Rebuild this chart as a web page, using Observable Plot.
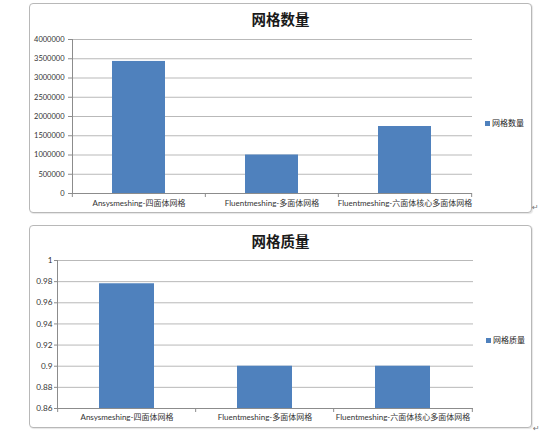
<!DOCTYPE html>
<html><head><meta charset="utf-8">
<script src="https://cdn.jsdelivr.net/npm/d3@7"></script>
<script src="https://cdn.jsdelivr.net/npm/@observablehq/plot@0.6"></script>
<style>
body{margin:0;background:#fff;width:558px;height:446px;position:relative;overflow:hidden;font-family:Lato,"Noto Sans CJK SC",sans-serif;}
.box{position:absolute;box-sizing:border-box;border:1px solid #b8b8b8;border-radius:4px;box-shadow:1px 1px 1px rgba(0,0,0,0.10);background:#fff;}
.title{position:absolute;text-align:center;font-family:"Noto Sans CJK SC",sans-serif;font-weight:bold;font-size:14.5px;line-height:1;color:#1a1a1a;}
.legend{position:absolute;font-family:"Noto Sans CJK SC",sans-serif;font-size:8px;line-height:1;color:#222;display:flex;align-items:center;}
.legend .sw{display:inline-block;width:5px;height:5px;background:#4F81BD;margin-right:2px;}
.plotwrap{position:absolute;}
.pmark{position:absolute;font-family:"DejaVu Sans";font-size:8px;color:#777;line-height:1;}
</style></head>
<body>
<script>
const categories = ["Ansysmeshing-四面体网格", "Fluentmeshing-多面体网格", "Fluentmeshing-六面体核心多面体网格"];
const countValues = [3430000, 1000000, 1740000];
const qualityValues = [0.978, 0.9, 0.9];
const countTicks = [0, 500000, 1000000, 1500000, 2000000, 2500000, 3000000, 3500000, 4000000];
const qualityTicks = [0.86, 0.88, 0.9, 0.92, 0.94, 0.96, 0.98, 1];
const titles = ["网格数量", "网格质量"];
const seriesNames = ["网格数量", "网格质量"];

const BAR = "#4F81BD";
const GRID = "#b9b9b9";
const AXIS = "#8c8c8c";

function chart(cfg) {
  const {left, top, width, height, mt, mr, mb, ml, values, ticks, fmt, yFont, tickSize, tickPadding, xPad, title, titleY, name, legX, legY} = cfg;
  const box = document.createElement("div");
  box.className = "box";
  Object.assign(box.style, {left: left + "px", top: top + "px", width: width + "px", height: height + "px"});
  document.body.appendChild(box);

  const data = categories.map((c, i) => ({c, v: values[i]}));
  const yMin = ticks[0], yMax = ticks[ticks.length - 1];
  const step = (width - ml - mr) / categories.length;

  const svg = Plot.plot({
    width, height,
    marginTop: mt, marginRight: mr, marginBottom: mb, marginLeft: ml,
    style: {background: "transparent", fontFamily: 'Lato, "Noto Sans CJK SC", sans-serif', color: "#333"},
    x: {domain: categories, paddingInner: 0.6, paddingOuter: 0.3, label: null},
    y: {domain: [yMin, yMax], label: null},
    marks: [
      Plot.gridY(ticks, {stroke: GRID, strokeOpacity: 1}),
      Plot.barY(data, {x: "c", y1: yMin, y2: "v", fill: BAR}),
      Plot.ruleY([yMin], {stroke: AXIS}),
      Plot.ruleX(categories, {x: d => d, y1: yMin, y2: yMin, insetBottom: -4, dx: -step / 2, stroke: AXIS}),
      Plot.ruleX([categories[categories.length - 1]], {x: d => d, y1: yMin, y2: yMin, insetBottom: -4, dx: step / 2, stroke: AXIS}),
      Plot.axisY({ticks, tickFormat: fmt, tickSize, tickPadding, fontSize: yFont, stroke: AXIS, color: "#333", label: null}),
      Plot.frame({anchor: "left", stroke: AXIS}),
      Plot.axisX({tickSize: 0, tickPadding: xPad, fontSize: 8, label: null, color: "#333"})
    ]
  });
  const wrap = document.createElement("div");
  wrap.className = "plotwrap";
  Object.assign(wrap.style, {left: left + "px", top: top + "px"});
  wrap.appendChild(svg);
  document.body.appendChild(wrap);

  const t = document.createElement("div");
  t.className = "title";
  t.textContent = title;
  Object.assign(t.style, {left: left + "px", width: width + "px", top: titleY + "px"});
  document.body.appendChild(t);

  const lg = document.createElement("div");
  lg.className = "legend";
  lg.innerHTML = '<span class="sw"></span><span></span>';
  lg.lastChild.textContent = name;
  Object.assign(lg.style, {left: legX + "px", top: legY + "px"});
  document.body.appendChild(lg);
}

chart({left: 29, top: 3, width: 503, height: 210, mt: 36, mr: 60, mb: 20, ml: 43,
  values: countValues, ticks: countTicks, fmt: d => String(d), yFont: 7.5, tickSize: 4, tickPadding: 4, xPad: 7,
  title: titles[0], titleY: 12, name: seriesNames[0], legX: 485, legY: 119});
chart({left: 29, top: 225, width: 503, height: 203, mt: 35, mr: 59, mb: 20, ml: 28,
  values: qualityValues, ticks: qualityTicks, fmt: d => String(+d.toFixed(2)), yFont: 8.2, tickSize: 3, tickPadding: 2, xPad: 6,
  title: titles[1], titleY: 234, name: seriesNames[1], legX: 486, legY: 336});

for (const [x, y] of [[532, 204], [533, 425]]) {
  const m = document.createElement("div");
  m.className = "pmark";
  m.textContent = "↵";
  Object.assign(m.style, {left: x + "px", top: y + "px"});
  document.body.appendChild(m);
}
</script>
</body></html>
